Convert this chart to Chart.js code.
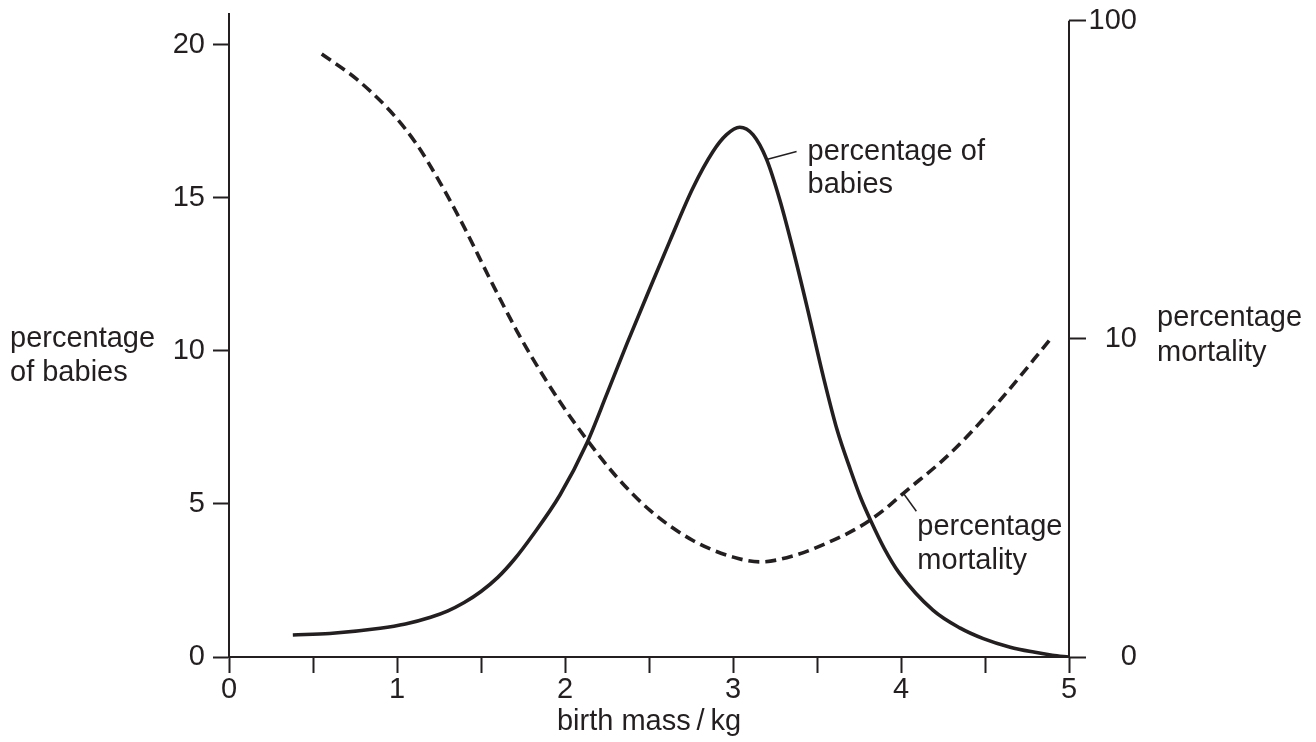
<!DOCTYPE html>
<html>
<head>
<meta charset="utf-8">
<title>Birth mass, babies and mortality</title>
<script src="https://cdn.jsdelivr.net/npm/chart.js@4"></script>
<style>
  html, body { margin: 0; padding: 0; background: #fff; }
  #wrap { width: 1316px; height: 742px; }
</style>
</head>
<body>
<div id="wrap"><canvas id="massChart" width="1316" height="742"></canvas></div>
<script>
// solid curve - percentage of babies (left axis)
const babyMass = [0.38, 0.6, 0.9, 1.05, 1.2, 1.3, 1.4, 1.5, 1.6, 1.7, 1.8, 1.97, 2.13, 2.25, 2.37, 2.51, 2.625, 2.76, 2.88, 2.96, 3.04, 3.12, 3.2, 3.28, 3.36, 3.44, 3.54, 3.62, 3.7, 3.76, 3.82, 3.9, 3.99, 4.19, 4.35, 4.49, 4.65, 4.79, 4.9, 5.0];
const babiesPct = [0.72, 0.77, 0.94, 1.08, 1.3, 1.5, 1.78, 2.14, 2.6, 3.2, 3.92, 5.29, 6.98, 8.6, 10.25, 12.1, 13.6, 15.3, 16.5, 17.05, 17.3, 17.05, 16.25, 14.9, 13.25, 11.45, 9.1, 7.41, 6.1, 5.2, 4.45, 3.55, 2.74, 1.53, 0.95, 0.6, 0.32, 0.16, 0.06, 0.0];

// dashed curve - percentage mortality (right axis)
const mortMass = [0.552, 0.76, 0.958, 1.117, 1.256, 1.395, 1.554, 1.713, 1.802, 1.97, 2.129, 2.308, 2.506, 2.764, 3.002, 3.161, 3.359, 3.558, 3.756, 3.895, 4.014, 4.292, 4.589, 4.897];
const mortalityPct = [78.6, 65.5, 52.1, 40.9, 31.0, 22.7, 15.4, 10.6, 8.77, 6.34, 4.83, 3.68, 2.89, 2.32, 2.06, 1.99, 2.08, 2.28, 2.57, 2.89, 3.27, 4.36, 6.41, 10.1];

// tick labels
const leftTicks = [0, 5, 10, 15, 20];
const rightTicks = [1, 10, 100];
const rightTickLabels = ['0', '10', '100'];

const ink = '#231f20';
const fontFamily = '"Liberation Sans", Arial, Helvetica, sans-serif';

Chart.defaults.font.family = fontFamily;
Chart.defaults.font.size = 29;
Chart.defaults.color = ink;

function noPad(scale) {
    scale.paddingTop = 0;
    scale.paddingBottom = 0;
    scale.paddingLeft = 0;
    scale.paddingRight = 0;
}

// labels, axis titles and right axis line
const annotations = {
    id: 'annotations',
    afterDraw(chart) {
        const ctx = chart.ctx;
        const area = chart.chartArea;
        const x = chart.scales.x;
        const y = chart.scales.y;
        const y2 = chart.scales.y2;

        ctx.save();
        ctx.strokeStyle = ink;
        ctx.lineCap = 'butt';

        // right axis line only goes up to 100
        ctx.lineWidth = 2;
        ctx.beginPath();
        ctx.moveTo(area.right, y2.getPixelForValue(100));
        ctx.lineTo(area.right, area.bottom);
        ctx.stroke();

        ctx.fillStyle = ink;
        ctx.font = '29px ' + fontFamily;
        ctx.textBaseline = 'alphabetic';

        // axis titles
        ctx.textAlign = 'left';
        ctx.fillText('percentage', 10, 347);
        ctx.fillText('of babies', 10, 381);
        ctx.fillText('percentage', 1157, 326);
        ctx.fillText('mortality', 1157, 361);
        ctx.textAlign = 'center';
        ctx.fillText('birth mass\u2009/\u2009kg', (area.left + area.right) / 2, 730);

        // label for the babies curve
        const bx = x.getPixelForValue(3.2);
        const by = y.getPixelForValue(16.25);
        ctx.lineWidth = 1.5;
        ctx.beginPath();
        ctx.moveTo(bx, by);
        ctx.lineTo(bx + 30, by - 8);
        ctx.stroke();
        ctx.textAlign = 'left';
        ctx.fillText('percentage of', bx + 41, by + 1);
        ctx.fillText('babies', bx + 41, by + 34);

        // label for the mortality curve
        const mx = x.getPixelForValue(4.014);
        const my = y2.getPixelForValue(3.27);
        ctx.beginPath();
        ctx.moveTo(mx, my);
        ctx.lineTo(mx + 13, my + 18);
        ctx.stroke();
        ctx.fillText('percentage', mx + 14, my + 42);
        ctx.fillText('mortality', mx + 14, my + 76);

        ctx.restore();
    }
};

const massChart = new Chart(document.getElementById('massChart').getContext('2d'), {
    type: 'line',
    data: {
        datasets: [{
            label: 'percentage of babies',
            data: babyMass.map((m, i) => ({ x: m, y: babiesPct[i] })),
            yAxisID: 'y',
            borderColor: ink,
            borderWidth: 3.6,
            pointRadius: 0,
            cubicInterpolationMode: 'monotone',
            fill: false
        }, {
            label: 'percentage mortality',
            data: mortMass.map((m, i) => ({ x: m, y: mortalityPct[i] })),
            yAxisID: 'y2',
            borderColor: ink,
            borderWidth: 3.6,
            borderDash: [11, 6],
            pointRadius: 0,
            cubicInterpolationMode: 'monotone',
            fill: false
        }]
    },
    options: {
        responsive: false,
        animation: false,
        layout: { padding: { top: 14, right: 179, left: 0, bottom: 0 } },
        plugins: {
            legend: { display: false },
            tooltip: { enabled: false }
        },
        scales: {
            x: {
                type: 'linear',
                min: 0,
                max: 5,
                border: { color: ink, width: 2 },
                grid: { drawOnChartArea: false, tickLength: 16, tickWidth: 2, tickColor: ink },
                ticks: {
                    stepSize: 0.5,
                    autoSkip: false,
                    maxRotation: 0,
                    padding: 0,
                    callback: v => Number.isInteger(v) ? String(v) : ''
                },
                afterFit: s => { s.height = 85; noPad(s); }
            },
            y: {
                position: 'left',
                min: 0,
                max: 21,
                border: { color: ink, width: 2 },
                grid: { drawOnChartArea: false, tickLength: 16, tickWidth: 2, tickColor: ink },
                ticks: { padding: 8 },
                afterBuildTicks: s => { s.ticks = leftTicks.map(v => ({ value: v })); },
                afterFit: s => { s.width = 229; noPad(s); }
            },
            y2: {
                type: 'logarithmic',
                position: 'right',
                min: 1,
                max: 105,
                border: { display: false },
                grid: { drawOnChartArea: false, tickLength: 17, tickWidth: 2, tickColor: ink },
                ticks: {
                    crossAlign: 'far',
                    callback: v => rightTickLabels[rightTicks.indexOf(v)] ?? ''
                },
                afterBuildTicks: s => { s.ticks = rightTicks.map(v => ({ value: v })); },
                afterFit: s => { s.width = 68; noPad(s); }
            }
        }
    },
    plugins: [annotations]
});
</script>
</body>
</html>
